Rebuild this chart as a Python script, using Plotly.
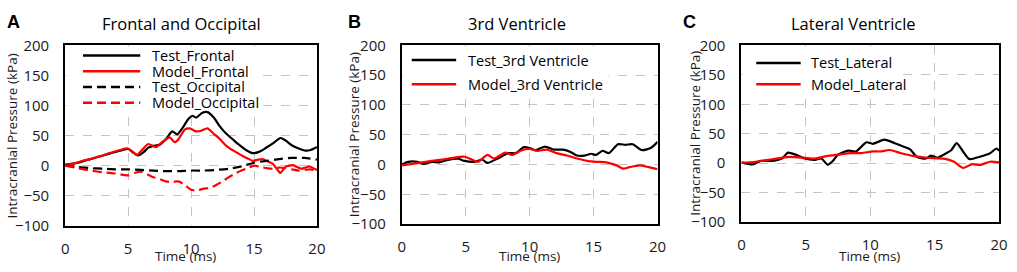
import plotly.graph_objects as go

W, H = 1017, 272

# ---------------- Data ----------------
# Panel A: Frontal and Occipital
t_test_frontal = [0, 0.5, 1, 1.5, 2, 2.5, 3, 3.5, 4, 4.5, 5, 5.4, 5.8, 6.2, 6.6, 7.0, 7.5, 8.0, 8.5, 8.9,
                  9.3, 9.8, 10.1, 10.4, 10.9, 11.3, 11.8, 12.3, 12.8, 13.3, 13.8, 14.3, 14.9, 15.4, 15.9,
                  16.5, 17.1, 17.5, 18.0, 18.5, 19.1, 19.5, 20]
p_test_frontal = [2, 3, 5, 8, 11, 14, 17, 20, 23, 26, 28, 22, 17, 22, 30, 33, 35, 44, 57, 52,
                  62, 78, 83, 80, 88, 89, 80, 65, 53, 44, 35, 27, 21, 23, 29,
                  37, 46, 42, 34, 29, 25, 26, 31]

t_model_frontal = [0, 0.5, 1, 1.5, 2, 2.5, 3, 3.5, 4, 4.5, 4.9, 5.3, 5.7, 6.1, 6.6, 7.2, 7.7, 8.3, 8.7, 9.0,
                   9.5, 9.9, 10.4, 10.8, 11.3, 11.8, 12.3, 12.8, 13.2, 13.7, 14.1, 14.5, 14.9, 15.3, 15.7,
                   16.1, 16.5, 16.8, 17.1, 17.5, 18.1, 18.5, 18.8, 19.1, 19.4, 19.7, 20]
p_model_frontal = [1, 3, 5.5, 9, 11, 14, 17, 21, 24, 27, 29, 24, 18, 26, 36, 31, 39, 47, 39, 44,
                   60, 62, 57, 58, 62, 53, 44, 33, 27, 21, 16, 12, 8, 10, 11,
                   7, 3, -5, -12, -2, 1, -3, -5, -3, -1, -4, -7]

t_test_occipital = [0, 1, 2, 3, 4, 5, 6, 7, 8, 9, 10, 11, 12, 13, 14, 15, 16, 17, 18, 19, 20]
p_test_occipital = [0, -2, -4, -5, -6, -6, -7, -8, -9, -9, -8, -8, -7, -5, -1, 5, 8, 11, 13, 13, 10]

t_model_occipital = [0, 1, 2, 3, 4, 5, 5.5, 6, 6.5, 7, 7.5, 8, 8.5, 9, 9.5, 10, 10.5, 11, 11.5, 12,
                     12.5, 13, 13.5, 14, 14.5, 15, 15.5, 16, 16.5, 17, 17.5, 18, 18.5, 19, 19.5, 20]
p_model_occipital = [0, -4, -8, -11, -13, -16, -12, -10, -14, -19, -22, -26, -27, -26, -32, -40, -41, -38, -37, -32,
                     -26, -19, -13, -8, -4, 0, -2, -4, -5, -3, -4, -6, -8, -7, -6, -8]

# Panel B: 3rd Ventricle
t_test_3rd = [0, 0.5, 1.2, 1.7, 2.35, 2.9, 3.6, 4.4, 4.9, 5.7, 6.3, 6.7, 7.5, 8.3, 8.9, 9.55, 10.1, 10.45,
              11.2, 11.9, 12.6, 13.2, 13.7, 14.3, 14.8, 15.2, 15.7, 16.2, 16.9, 17.5, 18.05, 18.8, 19.5, 20]
p_test_3rd = [0, 4.5, 4.5, 1, 4.5, 3.6, 7.8, 9.6, 6, 4.5, 8, 2.6, 10, 19, 19, 29, 26.6, 24,
              30, 25, 25, 21, 15, 15, 18, 16, 23, 19, 34, 33, 34, 24, 28, 38]

t_model_3rd = [0, 1.1, 2.35, 3.6, 4.9, 5.4, 5.95, 6.7, 7.2, 8.1, 8.6, 9.4, 10, 10.6, 11.35, 12.1, 12.9,
               13.7, 14.5, 15.2, 16.0, 16.8, 17.3, 17.8, 18.6, 19.3, 20]
p_model_3rd = [-1.5, 2, 6, 9.6, 13, 9, 4.5, 16, 10, 20, 16, 24, 26, 23, 25, 19, 15,
               10, 6, 4.5, 3.6, -1.5, -7, -4.5, -1.5, -4.5, -8]

# Panel C: Lateral Ventricle
t_test_lateral = [0, 0.87, 1.5, 2.4, 3.2, 3.6, 4.2, 4.9, 5.7, 6.2, 6.7, 7.1, 7.5, 8.3, 8.9, 9.7, 10.2,
                  11.1, 11.9, 12.6, 13.1, 13.6, 14.3, 14.7, 15.2, 15.9, 16.3, 16.7, 17.2, 17.7, 18.5,
                  19.3, 19.8, 20]
p_test_lateral = [1.5, -2, 4, 4, 9, 18, 14.6, 8, 5.7, 8, -2.6, 4, 14.6, 21.5, 20, 35.5, 33,
                  40, 34, 28, 23.5, 11, 8, 13, 9.3, 17, 22.5, 34, 20, 7, 11,
                  17, 25, 21]

t_model_lateral = [0, 1.1, 2.4, 3.7, 4.9, 5.7, 6.6, 7.5, 8.5, 9.3, 10.2, 10.8, 11.5, 12.4, 13.4, 14.4,
                   15.7, 16.5, 17.2, 17.9, 18.5, 19.3, 20]
p_model_lateral = [0.5, 2.6, 6.8, 10.9, 9.3, 7.8, 12, 14.6, 17.2, 17.2, 20, 20, 22.5, 17, 12, 9.3,
                   7.8, 2.6, -8, -1.5, -3, 2.6, 1.5]

panel_titles = ["Frontal and Occipital", "3rd Ventricle", "Lateral Ventricle"]
panel_letters = ["A", "B", "C"]
x_ticks = [0, 5, 10, 15, 20]
y_ticks = [-100, -50, 0, 50, 100, 150, 200]
x_range = [0, 20]
y_range = [-100, 200]
x_title = "Time (ms)"
y_title = "Intracranial Pressure (kPa)"

# ---------------- Layout geometry (pixels) ----------------
FONT = "Open Sans, sans-serif"
TXT = "#1a1a1a"
plots = [  # left, right, top, bottom
    (62, 317, 37, 232),
    (403, 662, 37, 230),
    (747, 1008, 37, 228),
]

def fx(p):
    return p / W

def fy(p):
    return 1 - p / H

fig = go.Figure()

RED = "#ff0000"
BLACK = "#000000"
LW = 2.2
DASH = "9px,5px"

series = [
    (0, t_test_frontal, p_test_frontal, "Test_Frontal", BLACK, "solid"),
    (0, t_model_frontal, p_model_frontal, "Model_Frontal", RED, "solid"),
    (0, t_test_occipital, p_test_occipital, "Test_Occipital", BLACK, DASH),
    (0, t_model_occipital, p_model_occipital, "Model_Occipital", RED, DASH),
    (1, t_test_3rd, p_test_3rd, "Test_3rd Ventricle", BLACK, "solid"),
    (1, t_model_3rd, p_model_3rd, "Model_3rd Ventricle", RED, "solid"),
    (2, t_test_lateral, p_test_lateral, "Test_Lateral", BLACK, "solid"),
    (2, t_model_lateral, p_model_lateral, "Model_Lateral", RED, "solid"),
]

def sfx(i):
    return "" if i == 0 else str(i + 1)

for k, t, p, name, col, dash in series:
    fig.add_trace(go.Scatter(
        x=t, y=p, name=name, mode="lines", showlegend=False,
        line=dict(color=col, width=LW, dash=dash, shape="spline", smoothing=0.6),
        xaxis="x" + sfx(k), yaxis="y" + sfx(k),
    ))

layout = dict(
    width=W, height=H,
    margin=dict(l=0, r=0, t=0, b=0),
    paper_bgcolor="white", plot_bgcolor="white",
    font=dict(family=FONT, size=14, color=TXT),
    showlegend=False,
)

annotations = []
shapes = []
for i, (l, r, tp, bt) in enumerate(plots):
    s = sfx(i)
    layout["xaxis" + s] = dict(
        domain=[fx(l), fx(r)], anchor="y" + s, range=x_range,
        tickvals=x_ticks, showgrid=True, gridcolor="#c4c4c4", griddash="dash", gridwidth=1,
        showline=True, linecolor="black", linewidth=2, mirror=True, zeroline=False,
        ticks="", ticklabelstandoff=8, tickfont=dict(size=15, family=FONT, color=TXT),
        fixedrange=True,
    )
    layout["yaxis" + s] = dict(
        domain=[fy(bt), fy(tp)], anchor="x" + s, range=y_range,
        tickvals=y_ticks, showgrid=True, gridcolor="#c4c4c4", griddash="dash", gridwidth=1,
        showline=True, linecolor="black", linewidth=2, mirror=True, zeroline=False,
        ticks="", ticklabelstandoff=11, tickfont=dict(size=15, family=FONT, color=TXT),
        fixedrange=True,
    )

# panel titles and letters
title_cx = [180, 520, 860]
letter_x = [1, 346, 686]
for i in range(3):
    annotations.append(dict(text=panel_titles[i], xref="paper", yref="paper",
                            x=fx(title_cx[i]), y=fy(13), xanchor="center", yanchor="middle",
                            showarrow=False, font=dict(size=16.5, family=FONT, color="black")))
    annotations.append(dict(text="<b>%s</b>" % panel_letters[i], xref="paper", yref="paper",
                            x=fx(letter_x[i]), y=fy(12), xanchor="left", yanchor="middle",
                            showarrow=False,
                            font=dict(size=18, family="Liberation Sans, Arial", color="black")))

# axis titles
xt_cx = [184, 532, 877]
yt_cx = [8, 354, 700]
for i, (l, r, tp, bt) in enumerate(plots):
    annotations.append(dict(text=x_title, xref="paper", yref="paper",
                            x=fx(xt_cx[i]), y=fy(264), xanchor="center", yanchor="middle",
                            showarrow=False, font=dict(size=13.5, family=FONT, color=TXT)))
    annotations.append(dict(text=y_title, xref="paper", yref="paper",
                            x=fx(yt_cx[i]), y=fy((tp + bt) / 2), xanchor="center", yanchor="middle",
                            textangle=-90, showarrow=False,
                            font=dict(size=13.5, family=FONT, color=TXT)))

# white boxes behind the legends (hide grid lines there; traces stay on top)
def px_to_data(i, px, py):
    l, r, tp, bt = plots[i]
    xd = x_range[0] + (px - l) / (r - l) * (x_range[1] - x_range[0])
    yd = y_range[0] + (bt - py) / (bt - tp) * (y_range[1] - y_range[0])
    return xd, yd

leg_boxes = [(63, 262, 38, 106), (404, 612, 38, 92), (748, 905, 38, 92)]
for i, (bx0, bx1, by0, by1) in enumerate(leg_boxes):
    x0, y1 = px_to_data(i, bx0, by0)
    x1, y0 = px_to_data(i, bx1, by1)
    shapes.append(dict(type="rect", xref="x" + sfx(i), yref="y" + sfx(i),
                       x0=x0, x1=x1, y0=y0, y1=y1,
                       fillcolor="white", line=dict(width=0), layer="between"))

# legends: sample line + series name
legend_geom = [  # line x0, line x1, text x, row y positions
    (80, 138, 148, [48, 65, 82, 99]),
    (413, 458, 468, [53, 79]),
    (762, 807, 815, [56, 79]),
]
row_counter = [0, 0, 0]
for k, t, p, name, col, dash in series:
    lx0, lx1, tx, rows = legend_geom[k]
    ry = rows[row_counter[k]]
    row_counter[k] += 1
    shapes.append(dict(type="line", xref="paper", yref="paper",
                       x0=fx(lx0), x1=fx(lx1), y0=fy(ry), y1=fy(ry),
                       line=dict(color=col, width=LW + 0.3, dash=dash), layer="above"))
    annotations.append(dict(text=name, xref="paper", yref="paper",
                            x=fx(tx), y=fy(ry), xanchor="left", yanchor="middle",
                            showarrow=False, font=dict(size=14.5, family=FONT, color="black")))

layout["annotations"] = annotations
layout["shapes"] = shapes
fig.update_layout(**layout)

fig.write_html("out.html", config={"displayModeBar": False, "staticPlot": True},
               post_script="document.body.style.margin='0';document.body.style.overflow='hidden';")
